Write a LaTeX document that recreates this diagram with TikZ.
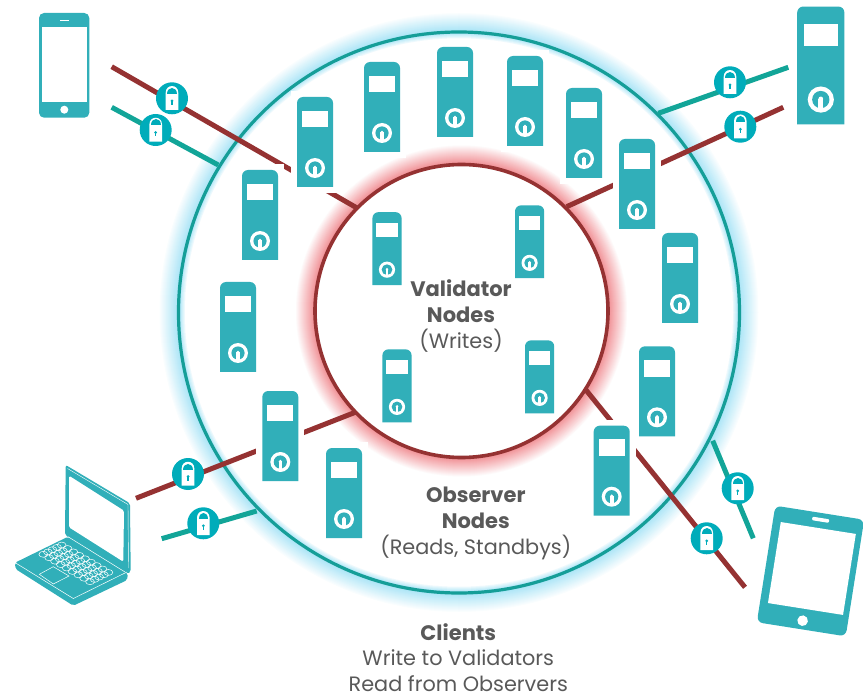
\documentclass[tikz,border=0pt]{standalone}
\usepackage{fontspec}
\setmainfont{Poppins}
\definecolor{srvteal}{HTML}{31AFB9}
\definecolor{lockteal}{HTML}{00ACBA}
\definecolor{linkteal}{HTML}{12A598}
\definecolor{ringteal}{HTML}{159E98}
\definecolor{linkred}{HTML}{953232}
\definecolor{glowblue}{HTML}{A5E3F6}
\definecolor{glowred}{HTML}{F0888E}
\definecolor{labelgray}{HTML}{595959}
\tikzset{
  redlink/.style={draw=linkred,line width=5pt},
  teallink/.style={draw=linkteal,line width=5pt},
  boldlabel/.style={anchor=base,inner sep=0pt,text=labelgray,font=\fontsize{21}{25}\selectfont\bfseries},
  pluslabel/.style={anchor=base,inner sep=0pt,text=labelgray,font=\fontsize{20.8}{25}\selectfont},
  lockbadge/.style={circle,fill=lockteal,minimum size=32pt,inner sep=0pt,path picture={
    \begin{scope}[shift={(path picture bounding box.center)}]
    \fill[white] (-6.3,11.7) -- (-6.3,-5.5) .. controls (-6.3,-14.5) and (6.3,-14.5) .. (6.3,-5.5) -- (6.3,11.7) -- cycle;
    \fill[lockteal] (-4.8,-4.5) .. controls (-4.8,-12.5) and (4.8,-12.5) .. (4.8,-4.5) -- cycle;
    \fill[lockteal] (0,2.5) circle[radius=1.5];
    \fill[lockteal] (-.6,2.5) rectangle (.6,6.5);
    \end{scope}}},
  server/.pic={
    \fill[white] (-24,-51) rectangle (24,51);
    \fill[srvteal] (-18,45) [rounded corners=6pt] -- (-18,-45) -- (18,-45) [sharp corners] -- (18,45) -- cycle;
    \fill[white] (-13,-31.3) rectangle (13,-14.7);
    \fill[white] (0,26) circle[radius=10];
    \fill[srvteal] (0,26) circle[radius=6.6];
    \fill[white] (0,25.5) circle[radius=1.8];
    \fill[white] (-1.8,25.5) rectangle (1.8,34);
  }
}
\begin{document}
\begin{tikzpicture}[x=1pt,y=-1pt]
\useasboundingbox (0,0) rectangle (863,695);
\foreach \gl in {19,18,...,0}
  \fill[glowblue!\the\numexpr100-5*\gl\relax!white] (459,312.5) circle[radius=280.5+\gl];
\foreach \gl in {1,...,6}
  \fill[glowblue!\the\numexpr100-15*\gl\relax!white] (459,312.5) circle[radius=280.5-\gl];
\fill[white] (459,312.5) circle[radius=274];
\foreach \gl in {20,19,...,0}
  \fill[glowred!\the\numexpr100-5*\gl\relax!white] (461.5,311) circle[radius=146.5+\gl];
\fill[white] (461.5,311) circle[radius=146.5];
\draw[ringteal,line width=3.2pt] (459,312.5) circle[radius=280.5];
\draw[linkred,line width=3.6pt] (461.5,311) circle[radius=146.5];

\coordinate (phoneRed) at (111.7,66.7);
\coordinate (phoneRedIn) at (357,208);
\coordinate (phoneTeal) at (111.7,107.3);
\coordinate (phoneTealIn) at (218.3,165);
\coordinate (towerTeal) at (788.3,67.3);
\coordinate (towerTealIn) at (658.3,113.3);
\coordinate (towerRed) at (783.3,107.3);
\coordinate (towerRedIn) at (566.7,206.7);
\coordinate (laptopRed) at (136,498.3);
\coordinate (laptopRedIn) at (356,412);
\coordinate (laptopTeal) at (161.7,538.7);
\coordinate (laptopTealIn) at (256.7,511);
\coordinate (tabletRed) at (745,587.3);
\coordinate (tabletRedIn) at (586,390);
\coordinate (tabletTeal) at (753.3,538.3);
\coordinate (tabletTealIn) at (712.7,440.7);
\draw[redlink] (phoneRed) -- (phoneRedIn);
\draw[teallink] (phoneTeal) -- (phoneTealIn);
\draw[teallink] (towerTeal) -- (towerTealIn);
\draw[redlink] (towerRed) -- (towerRedIn);
\draw[redlink] (laptopRed) -- (laptopRedIn);
\draw[teallink] (laptopTeal) -- (laptopTealIn);
\draw[redlink] (tabletRed) -- (tabletRedIn);
\draw[teallink] (tabletTeal) -- (tabletTealIn);

\pic (obsA) at (315,142) {server};
\pic (obsB) at (382,107) {server};
\pic (obsC) at (455,92) {server};
\pic (obsD) at (525,101) {server};
\pic (obsE) at (584,133) {server};
\pic (obsF) at (637,184) {server};
\pic (obsG) at (680,278) {server};
\pic (obsH) at (657,391.3) {server};
\pic (obsI) at (611.7,470.7) {server};
\pic (obsJ) at (344,493) {server};
\pic (obsK) at (280.3,436) {server};
\pic (obsL) at (238,327) {server};
\pic (obsM) at (260,215) {server};
\pic[scale=.81] (valA) at (387,248.6) {server};
\pic[scale=.81] (valB) at (529.6,241.8) {server};
\pic[scale=.81] (valC) at (397,385.8) {server};
\pic[scale=.81] (valD) at (539.6,376.8) {server};
\pic[scale=1.31] (tower) at (820.8,65.5) {server};

\node[lockbadge] (lockA) at (172,98.3) {};
\node[lockbadge] (lockB) at (155.7,130) {};
\node[lockbadge] (lockC) at (730,82.3) {};
\node[lockbadge] (lockD) at (740.3,126.7) {};
\node[lockbadge] (lockE) at (188,474) {};
\node[lockbadge] (lockF) at (203.3,523.3) {};
\node[lockbadge] (lockG) at (737.7,488.3) {};
\node[lockbadge] (lockH) at (706.7,538.3) {};

\fill[srvteal,rounded corners=5pt] (39,13) rectangle (89.3,117.7);
\fill[white] (42,27) rectangle (86.7,101.7);
\fill[white] (64.3,109.7) circle[radius=4];
\fill[white] (60,19.9) rectangle (68.6,20.8);

\begin{scope}[shift={(810.5,571)},rotate=-9]
\fill[srvteal,rounded corners=6pt] (-45,-59) rectangle (45,59);
\fill[white] (-37,-43.7) rectangle (39,38.3);
\fill[white,rounded corners=1pt] (-6.5,-54) rectangle (10.5,-50.4);
\fill[white] (0,50.3) circle[radius=5.3];
\end{scope}

\fill[srvteal,rounded corners=2pt] (65.7,465) -- (130,503.3) -- (130.7,571.7) -- (127.7,574) -- (65,535) -- cycle;
\fill[white,rounded corners=1.5pt] (69,475.7) -- (124,510.7) -- (123.3,561.7) -- (69,527.3) -- cycle;
\draw[white,line width=.4pt] (67.5,468.5) -- (128,504.5) -- (128.5,568);
\fill[srvteal,rounded corners=2pt] (15,562.7) -- (68,536.7) -- (127.7,573.3) -- (127.3,580) -- (73.3,605.7) -- (15.5,569) -- cycle;
\draw[white,line width=.5pt] (15.7,563) -- (73.3,598.5) -- (127,572);
\draw[white,line width=.5pt] (68,536.7) -- (125,572);
\draw[white,line width=.5pt] (39.3,574.3) -- (53.3,566.7) -- (69,576) -- (53.3,584) -- cycle;
\foreach \cola in {0,...,8}
  \foreach \rowa in {0,...,4}
    \draw[white,line width=.5pt] (43.3+5.84*\cola+4.6*\rowa,554.3+3.42*\cola-2.3*\rowa) circle[x radius=4.4,y radius=3];

\node[boldlabel] (validatorA) at (461,296.7) {Validator};
\node[boldlabel] (validatorB) at (461,322.7) {Nodes};
\node[pluslabel] (validatorC) at (461,348.3) {(Writes)};
\node[boldlabel] (observerA) at (475.8,502.3) {Observer};
\node[boldlabel] (observerB) at (475.8,528.3) {Nodes};
\node[pluslabel] (observerC) at (475.8,554) {(Reads, Standbys)};
\node[boldlabel] (clientsA) at (458.3,640) {Clients};
\node[pluslabel] (clientsB) at (458.3,665.7) {Write to Validators};
\node[pluslabel] (clientsC) at (458.3,691.7) {Read from Observers};
\end{tikzpicture}
\end{document}
